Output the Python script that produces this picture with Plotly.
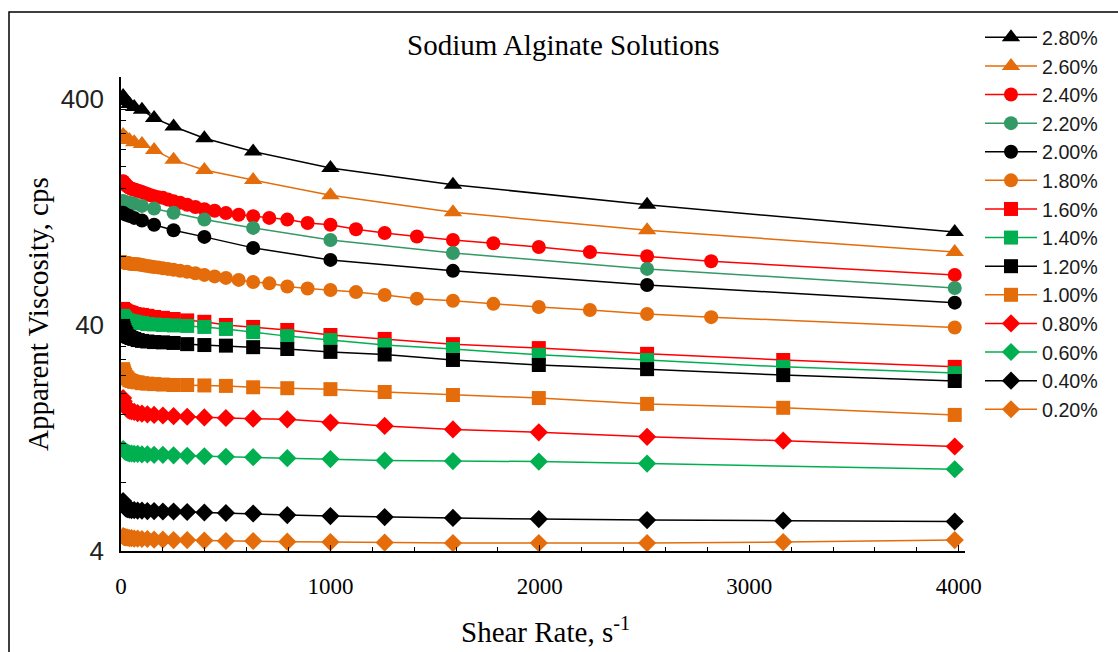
import plotly.graph_objects as go

# Shear rates (1/s) at which each set of solutions was measured
shear_coarse = [10, 16, 25, 40, 63, 100, 158, 251, 398, 631, 1000, 1585, 2512, 3981]
shear_fine = [10, 11.2, 12.6, 14.1, 15.8, 17.8, 20, 22.4, 25.1, 28.2,
              31.6, 35.5, 39.8, 44.7, 50.1, 56.2, 63.1, 70.8, 79.4, 89.1,
              100, 112, 126, 141, 158, 178, 200, 224, 251, 282,
              316, 355, 398, 447, 501, 562, 631, 708, 794, 891,
              1000, 1122, 1259, 1413, 1585, 1778, 1995, 2239, 2512, 2818,
              3981]
shear_mid = [10, 12.6, 15.8, 20, 25.1, 31.6, 39.8, 50.1, 63.1, 79.4,
             100, 126, 158, 200, 251, 316, 398, 501, 631, 794,
             1000, 1259, 1585, 1995, 2512, 3162, 3981]
shear_mid_060 = [10, 12.6, 15.8, 20, 25.1, 31.6, 39.8, 50.1, 63.1, 79.4,
                 100, 126, 158, 200, 251, 316, 398, 501, 631, 794,
                 1000, 1259, 1585, 1995, 2512, 3981]

# Apparent viscosity (cps) for each alginate concentration
visc_280 = [412, 404, 392, 380, 368, 358, 329, 302, 268, 234, 198, 167, 136, 103]
visc_260 = [277, 272, 268, 263, 257, 253, 238, 215, 194, 175, 150, 126, 105, 84]
visc_240 = [173, 172, 171, 170.5, 170, 169, 168, 167, 166, 165,
            164, 163, 162, 161, 160, 159.5, 159, 158, 157, 156,
            155, 153.5, 152, 150, 148.5, 147, 146, 143.5, 141, 139,
            136, 133, 130, 128, 125, 123, 121, 119, 117, 113,
            111, 106, 102, 98.5, 95, 92, 88.5, 84, 80.5, 76.5,
            66.6]
visc_220 = [141.5, 140, 139.5, 139, 137.5, 134.5, 131, 125.5, 117, 107.5, 95.1, 83.3, 70.8, 58.3]
visc_200 = [125.5, 124, 123, 121.5, 119, 116, 111, 105, 98.1, 87.7, 77.6, 69.4, 60.1, 50.2]
visc_180 = [76.0, 75.9, 75.8, 75.7, 75.6, 75.5, 75.4, 75.3, 75.2, 75.1,
            75.0, 74.9, 74.8, 74.7, 74.6, 74.5, 74.4, 74.3, 74.2, 74.0,
            73.7, 73.3, 73.0, 72.6, 72.2, 71.9, 71.2, 70.8, 70.1, 69.4,
            68.7, 67.7, 66.6, 65.6, 64.6, 63.3, 62.0, 61.1, 59.2, 58.0,
            57.1, 55.9, 54.3, 52.3, 51.2, 49.6, 48.0, 46.6, 44.7, 43.3,
            39.0]
visc_160 = [47.1, 46.6, 46.4, 46.2, 45.9, 45.7, 45.5, 45.2, 44.7, 44.5,
            44.3, 43.9, 43.4, 43.0, 42.5, 41.9, 41.3, 40.0, 39.2, 38.0,
            36.1, 34.7, 32.9, 31.6, 29.8, 28.0, 26.1]
visc_140 = [43.9, 43.4, 43.0, 42.5, 42.1, 41.9, 41.7, 41.5, 41.3, 41.0,
            40.8, 40.4, 40.2, 40.0, 39.8, 39.6, 39.2, 38.4, 37.2, 35.7,
            34.3, 32.6, 31.3, 29.5, 28.0, 26.1, 24.5]
visc_120 = [39.6, 38.8, 38.0, 37.2, 36.5, 35.7, 35.4, 35.0, 34.7, 34.3,
            34.0, 33.8, 33.6, 33.5, 33.3, 32.9, 32.6, 32.4, 31.9, 31.3,
            30.4, 29.6, 28.0, 26.6, 25.5, 24.0, 22.6]
visc_100 = [25.5, 25.0, 24.5, 24.0, 23.5, 23.2, 22.8, 22.6, 22.4, 22.3,
            22.1, 22.0, 21.9, 21.8, 21.7, 21.7, 21.6, 21.5, 21.2, 21.0,
            20.8, 20.2, 19.6, 19.0, 17.9, 17.2, 16.0]
visc_080 = [19.0, 18.4, 17.9, 17.5, 17.2, 16.9, 16.7, 16.6, 16.5, 16.3,
            16.2, 16.1, 16.0, 15.9, 15.8, 15.7, 15.6, 15.5, 15.4, 15.3,
            14.8, 14.3, 13.8, 13.4, 12.8, 12.3, 11.6]
visc_060 = [11.3, 11.2, 11.1, 11.0, 10.95, 10.9, 10.8, 10.8, 10.75, 10.75,
            10.7, 10.7, 10.65, 10.65, 10.6, 10.55, 10.5, 10.45, 10.4, 10.3,
            10.2, 10.05, 10.0, 9.95, 9.75, 9.2]
visc_040 = [6.65, 6.45, 6.32, 6.22, 6.16, 6.13, 6.10, 6.07, 6.07, 6.04,
            6.04, 6.01, 6.01, 5.98, 5.98, 5.95, 5.92, 5.89, 5.86, 5.77,
            5.71, 5.65, 5.60, 5.54, 5.48, 5.45, 5.40]
visc_020 = [4.65, 4.63, 4.61, 4.61, 4.59, 4.59, 4.56, 4.56, 4.54, 4.54,
            4.52, 4.52, 4.49, 4.49, 4.47, 4.47, 4.45, 4.43, 4.43, 4.40,
            4.38, 4.36, 4.34, 4.34, 4.34, 4.38, 4.47]

labels = ["2.80%", "2.60%", "2.40%", "2.20%", "2.00%", "1.80%", "1.60%",
          "1.40%", "1.20%", "1.00%", "0.80%", "0.60%", "0.40%", "0.20%"]

BLACK = "#000000"
ORANGE = "#E46C0A"
RED = "#FF0000"
SEA = "#339966"
GREEN = "#00B050"

series = [
    (labels[0], shear_coarse, visc_280, BLACK, "triangle-up", 16),
    (labels[1], shear_coarse, visc_260, ORANGE, "triangle-up", 16),
    (labels[2], shear_fine, visc_240, RED, "circle", 14),
    (labels[3], shear_coarse, visc_220, SEA, "circle", 14),
    (labels[4], shear_coarse, visc_200, BLACK, "circle", 14),
    (labels[5], shear_fine, visc_180, ORANGE, "circle", 14),
    (labels[6], shear_mid, visc_160, RED, "square", 14),
    (labels[7], shear_mid, visc_140, GREEN, "square", 14),
    (labels[8], shear_mid, visc_120, BLACK, "square", 14),
    (labels[9], shear_mid, visc_100, ORANGE, "square", 14),
    (labels[10], shear_mid, visc_080, RED, "diamond", 14),
    (labels[11], shear_mid_060, visc_060, GREEN, "diamond", 14),
    (labels[12], shear_mid, visc_040, BLACK, "diamond", 14),
    (labels[13], shear_mid, visc_020, ORANGE, "diamond", 14),
]

fig = go.Figure()
for name, xs, ys, color, symbol, size in series:
    fig.add_trace(go.Scatter(
        x=xs, y=ys, name=name, mode="lines+markers",
        line=dict(color=color, width=1.5),
        marker=dict(symbol=symbol, size=size, color=color, line=dict(width=0)),
    ))

# plot area in pixels: x 121..965, y 77..551
W, H = 1118, 652
L, R, T, B = 121, 153, 77, 101
pw, ph = W - L - R, H - T - B


def px(xp):
    return (xp - L) / pw


def py(yp):
    return (H - B - yp) / ph


serif = "Liberation Serif, Times New Roman, serif"
sans = "Liberation Sans, Arial, sans-serif"

fig.update_layout(
    width=W, height=H,
    margin=dict(l=L, r=R, t=T, b=B, autoexpand=False),
    paper_bgcolor="white", plot_bgcolor="white",
    showlegend=True,
    legend=dict(
        x=px(980), y=py(429), xanchor="left", yanchor="bottom",
        font=dict(family=sans, size=19.7, color="#1a1a1a"),
        itemwidth=52, bgcolor="rgba(0,0,0,0)", borderwidth=0,
    ),
    xaxis=dict(
        range=[0, 4030], showgrid=False, zeroline=False,
        showline=True, linecolor="black", linewidth=1.5,
        tickmode="array", tickvals=[0, 1000, 2000, 3000, 4000],
        ticks="inside", ticklen=6, tickwidth=1, tickcolor="black",
        minor=dict(dtick=200, tick0=0, ticks="inside", ticklen=4,
                   tickwidth=1, tickcolor="black"),
        tickfont=dict(family=serif, size=23, color="black"),
        ticklabelstandoff=14,
    ),
    yaxis=dict(
        type="log", range=[0.60206, 2.69897], showgrid=False, zeroline=False,
        showline=True, linecolor="black", linewidth=1.5,
        tickmode="array", tickvals=[4, 40, 400], ticktext=["4", "40", "400"],
        ticks="inside", ticklen=7, tickwidth=1, tickcolor="black",
        minor=dict(tickmode="array",
                   tickvals=[8, 12, 16, 20, 24, 28, 32, 36,
                             80, 120, 160, 200, 240, 280, 320, 360, 500],
                   ticks="inside", ticklen=5, tickwidth=1, tickcolor="black"),
        tickfont=dict(family=sans, size=26, color="#222222"),
        ticklabelstandoff=10,
    ),
    annotations=[
        dict(text="Sodium Alginate Solutions", x=px(563), y=py(45),
             xref="paper", yref="paper", showarrow=False,
             xanchor="center", yanchor="middle",
             font=dict(family=serif, size=29, color="black")),
        dict(text="Shear Rate, s<sup>-1</sup>", x=px(545), y=py(630),
             xref="paper", yref="paper", showarrow=False,
             xanchor="center", yanchor="middle",
             font=dict(family=serif, size=29, color="black")),
        dict(text="Apparent Viscosity, cps", x=px(38), y=py(314),
             xref="paper", yref="paper", showarrow=False, textangle=-90,
             xanchor="center", yanchor="middle",
             font=dict(family=serif, size=29, color="black")),
    ],
    shapes=[
        dict(type="rect", xref="paper", yref="paper",
             x0=px(9), y0=py(12), x1=px(1130), y1=py(670),
             line=dict(color="black", width=1.5), fillcolor="rgba(0,0,0,0)",
             layer="below"),
    ],
)

fig.write_html("out.html")
